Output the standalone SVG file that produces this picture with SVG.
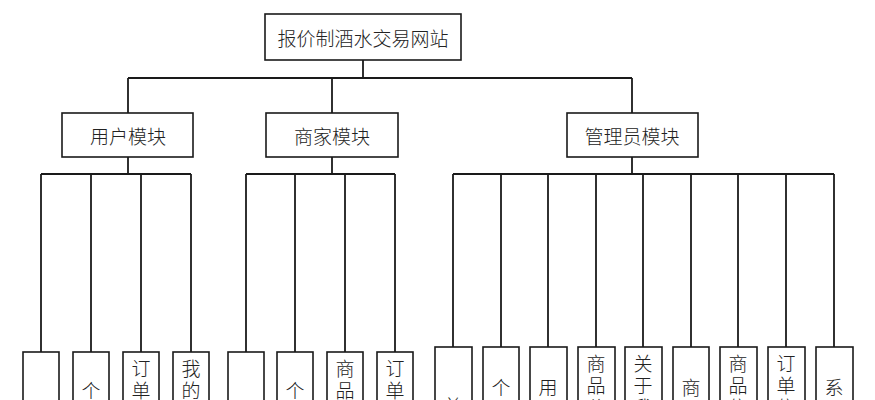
<svg xmlns="http://www.w3.org/2000/svg" width="875" height="400" viewBox="0 0 875 400">
<style>
rect{fill:#fff;stroke:#1a1a1a;stroke-width:1.6}
.c line{stroke:#1a1a1a;stroke-width:1.8}
text{font-family:"Noto Sans CJK SC","Noto Sans",sans-serif;font-size:19px;fill:#222;text-anchor:middle;dominant-baseline:central;font-weight:300}
</style>
<rect x="0" y="0" width="875" height="400" style="stroke:none"/>
<g class="c" id="connectors">
<line x1="363" y1="60" x2="363" y2="78"/>
<line x1="128" y1="78" x2="632" y2="78"/>
<line x1="128" y1="78" x2="128" y2="113"/>
<line x1="332" y1="78" x2="332" y2="113"/>
<line x1="632" y1="78" x2="632" y2="113"/>
<line x1="128" y1="157" x2="128" y2="174"/>
<line x1="332" y1="157" x2="332" y2="174"/>
<line x1="632" y1="157" x2="632" y2="174"/>
<line x1="41" y1="174" x2="191" y2="174"/>
<line x1="246" y1="174" x2="395" y2="174"/>
<line x1="453" y1="174" x2="834" y2="174"/>
<line x1="41" y1="174" x2="41" y2="352"/>
<line x1="91" y1="174" x2="91" y2="352"/>
<line x1="141" y1="174" x2="141" y2="352"/>
<line x1="191" y1="174" x2="191" y2="352"/>
<line x1="246" y1="174" x2="246" y2="352"/>
<line x1="295" y1="174" x2="295" y2="352"/>
<line x1="345" y1="174" x2="345" y2="352"/>
<line x1="395" y1="174" x2="395" y2="352"/>
<line x1="453" y1="174" x2="453" y2="347"/>
<line x1="501" y1="174" x2="501" y2="347"/>
<line x1="548" y1="174" x2="548" y2="347"/>
<line x1="596" y1="174" x2="596" y2="347"/>
<line x1="643" y1="174" x2="643" y2="347"/>
<line x1="691" y1="174" x2="691" y2="347"/>
<line x1="738" y1="174" x2="738" y2="347"/>
<line x1="786" y1="174" x2="786" y2="347"/>
<line x1="834" y1="174" x2="834" y2="347"/>
</g>
<g id="root"><rect x="265" y="14" width="196" height="46"/><text x="363" y="37">报价制酒水交易网站</text></g>
<g id="user"><rect x="62" y="113" width="131" height="44"/><text x="128" y="135">用户模块</text></g>
<g id="merchant"><rect x="266" y="113" width="132" height="44"/><text x="332" y="135">商家模块</text></g>
<g id="admin"><rect x="567" y="113" width="131" height="44"/><text x="632" y="135">管理员模块</text></g>

<g id="u1"><rect x="23" y="352" width="36" height="100"/><text x="41" y="408">首</text></g>
<g id="u2"><rect x="73" y="352" width="36" height="100"/><text x="91" y="389">个</text><text x="91" y="411">人</text></g>
<g id="u3"><rect x="123" y="352" width="36" height="100"/><text x="141" y="367">订</text><text x="141" y="389">单</text><text x="141" y="411">信</text></g>
<g id="u4"><rect x="173" y="352" width="36" height="100"/><text x="191" y="367">我</text><text x="191" y="389">的</text><text x="191" y="411">收</text></g>

<g id="m1"><rect x="228" y="352" width="36" height="100"/><text x="246" y="408">首</text></g>
<g id="m2"><rect x="277" y="352" width="36" height="100"/><text x="295" y="389">个</text><text x="295" y="411">人</text></g>
<g id="m3"><rect x="327" y="352" width="36" height="100"/><text x="345" y="367">商</text><text x="345" y="389">品</text><text x="345" y="411">信</text></g>
<g id="m4"><rect x="377" y="352" width="36" height="100"/><text x="395" y="367">订</text><text x="395" y="389">单</text><text x="395" y="411">信</text></g>

<g id="a1"><rect x="435" y="347" width="37" height="100"/><text x="453" y="405">首</text></g>
<g id="a2"><rect x="483" y="347" width="36" height="100"/><text x="501" y="386">个</text><text x="501" y="408">人</text></g>
<g id="a3"><rect x="530" y="347" width="37" height="100"/><text x="548" y="386">用</text><text x="548" y="408">户</text></g>
<g id="a4"><rect x="578" y="347" width="37" height="100"/><text x="596" y="362">商</text><text x="596" y="384">品</text><text x="596" y="406">分</text></g>
<g id="a5"><rect x="625" y="347" width="37" height="100"/><text x="643" y="362">关</text><text x="643" y="384">于</text><text x="643" y="406">我</text></g>
<g id="a6"><rect x="673" y="347" width="36" height="100"/><text x="691" y="386">商</text><text x="691" y="408">家</text></g>
<g id="a7"><rect x="720" y="347" width="37" height="100"/><text x="738" y="362">商</text><text x="738" y="384">品</text><text x="738" y="406">信</text></g>
<g id="a8"><rect x="768" y="347" width="37" height="100"/><text x="786" y="362">订</text><text x="786" y="384">单</text><text x="786" y="406">信</text></g>
<g id="a9"><rect x="816" y="347" width="37" height="100"/><text x="834" y="386">系</text><text x="834" y="408">统</text></g>
</svg>
